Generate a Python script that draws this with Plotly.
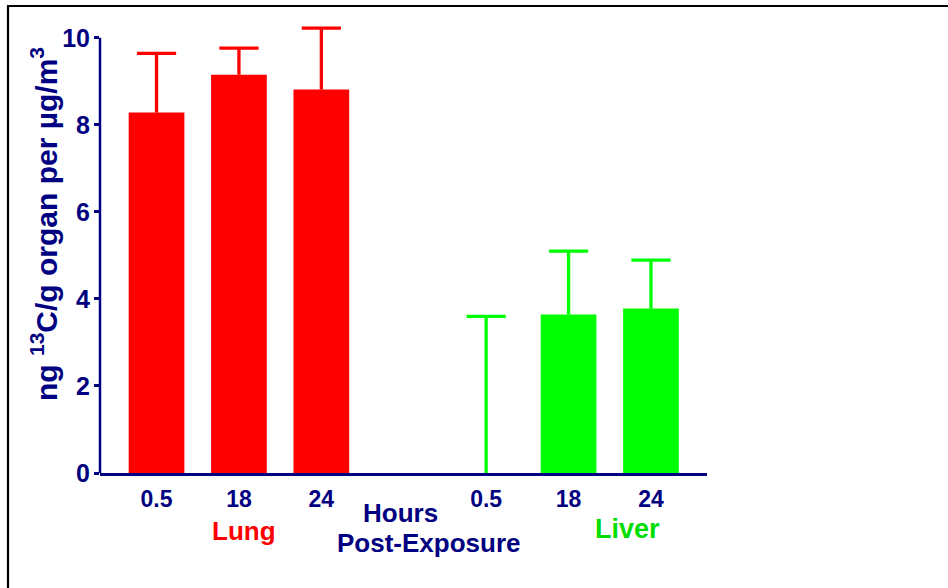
import plotly.graph_objects as go

# ---- data ----
lung_hours = ["0.5", "18", "24"]
liver_hours = ["0.5", "18", "24"]
lung_pos = [0, 1, 2]
liver_pos = [4, 5, 6]
lung_mean = [8.28, 9.15, 8.81]
lung_err = [1.36, 0.61, 1.41]
liver_mean = [0.0, 3.64, 3.78]
liver_err = [3.60, 1.46, 1.11]
y_ticks = [0, 2, 4, 6, 8, 10]

NAVY = "#000080"
RED = "#FF0000"
GREEN = "#00FF00"
FONT = "Arial, 'Liberation Sans', Helvetica, sans-serif"

W, H = 948, 588
L, R, T, B = 100, 241, 16, 115
PW, PH = W - L - R, H - T - B


def px_x(px):
    return (px - L) / PW


def px_y(py):
    return (H - B - py) / PH


fig = go.Figure()


def add_group(pos, mean, err, color):
    # bars with upper-only error stems (no caps)
    fig.add_trace(go.Bar(
        x=pos, y=mean, width=0.676,
        marker=dict(color=color, line=dict(width=0)),
        error_y=dict(type="data", symmetric=False, array=err,
                     arrayminus=[0] * len(err), color=color,
                     thickness=3.3, width=0),
        hoverinfo="skip", showlegend=False,
    ))
    # caps at the top of each error stem
    fig.add_trace(go.Scatter(
        x=pos, y=[m + e for m, e in zip(mean, err)], mode="markers",
        marker=dict(symbol="line-ew", size=28, color=color,
                    line=dict(color=color, width=3.3)),
        hoverinfo="skip", showlegend=False, cliponaxis=False,
    ))


add_group(lung_pos, lung_mean, lung_err, RED)
add_group(liver_pos, liver_mean, liver_err, GREEN)

fig.update_layout(
    width=W, height=H,
    margin=dict(l=L, r=R, t=T, b=B, pad=0),
    paper_bgcolor="white", plot_bgcolor="white",
    font=dict(family=FONT, color=NAVY),
    xaxis=dict(
        range=[-0.686, 6.68],
        tickvals=lung_pos + liver_pos,
        ticktext=lung_hours + liver_hours,
        showline=True, linecolor=NAVY, linewidth=2.5,
        ticks="", showgrid=False, zeroline=False,
        tickfont=dict(family=FONT, size=23, color=NAVY, weight="bold"),
        ticklabelstandoff=4,
    ),
    yaxis=dict(
        range=[0, 10.5],
        tickvals=y_ticks,
        ticktext=[str(v) for v in y_ticks],
        showline=False, ticks="outside", ticklen=5, tickwidth=2.5,
        tickcolor=NAVY, showgrid=False, zeroline=False,
        tickfont=dict(family=FONT, size=25, color=NAVY, weight="bold"),
        ticklabelstandoff=-1,
    ),
    shapes=[
        # y-axis line from 0 to 10
        dict(type="line", xref="paper", yref="y", x0=0, x1=0, y0=0, y1=10,
             line=dict(color=NAVY, width=2.5)),
        # outer frame (top and left)
        dict(type="line", xref="paper", yref="paper",
             x0=px_x(7), x1=px_x(W + 5), y0=px_y(6), y1=px_y(6),
             line=dict(color="black", width=2.2)),
        dict(type="line", xref="paper", yref="paper",
             x0=px_x(8), x1=px_x(8), y0=px_y(5), y1=px_y(H + 5),
             line=dict(color="black", width=2.2)),
    ],
    annotations=[
        dict(text="ng <sup>13</sup>C/g organ per µg/m<sup>3</sup>",
             xref="paper", yref="paper", x=px_x(44), y=px_y(224),
             xanchor="center", yanchor="middle", textangle=-90, showarrow=False,
             font=dict(family=FONT, size=30, color=NAVY, weight="bold")),
        dict(text="Lung", xref="paper", yref="paper", x=px_x(244), y=px_y(531),
             xanchor="center", yanchor="middle", showarrow=False,
             font=dict(family=FONT, size=26, color=RED, weight="bold")),
        dict(text="Liver", xref="paper", yref="paper", x=px_x(627), y=px_y(529),
             xanchor="center", yanchor="middle", showarrow=False,
             font=dict(family=FONT, size=27, color="#00DD00", weight="bold")),
        dict(text="Hours", xref="paper", yref="paper", x=px_x(400.5), y=px_y(513),
             xanchor="center", yanchor="middle", showarrow=False,
             font=dict(family=FONT, size=26, color=NAVY, weight="bold")),
        dict(text="Post-Exposure", xref="paper", yref="paper", x=px_x(428.7), y=px_y(543),
             xanchor="center", yanchor="middle", showarrow=False,
             font=dict(family=FONT, size=26, color=NAVY, weight="bold")),
    ],
)

# remove the browser's default 8px page margin so the figure sits at (0, 0)
fig.write_html("out.html", config={"displayModeBar": False},
               post_script="document.body.style.margin='0';")
